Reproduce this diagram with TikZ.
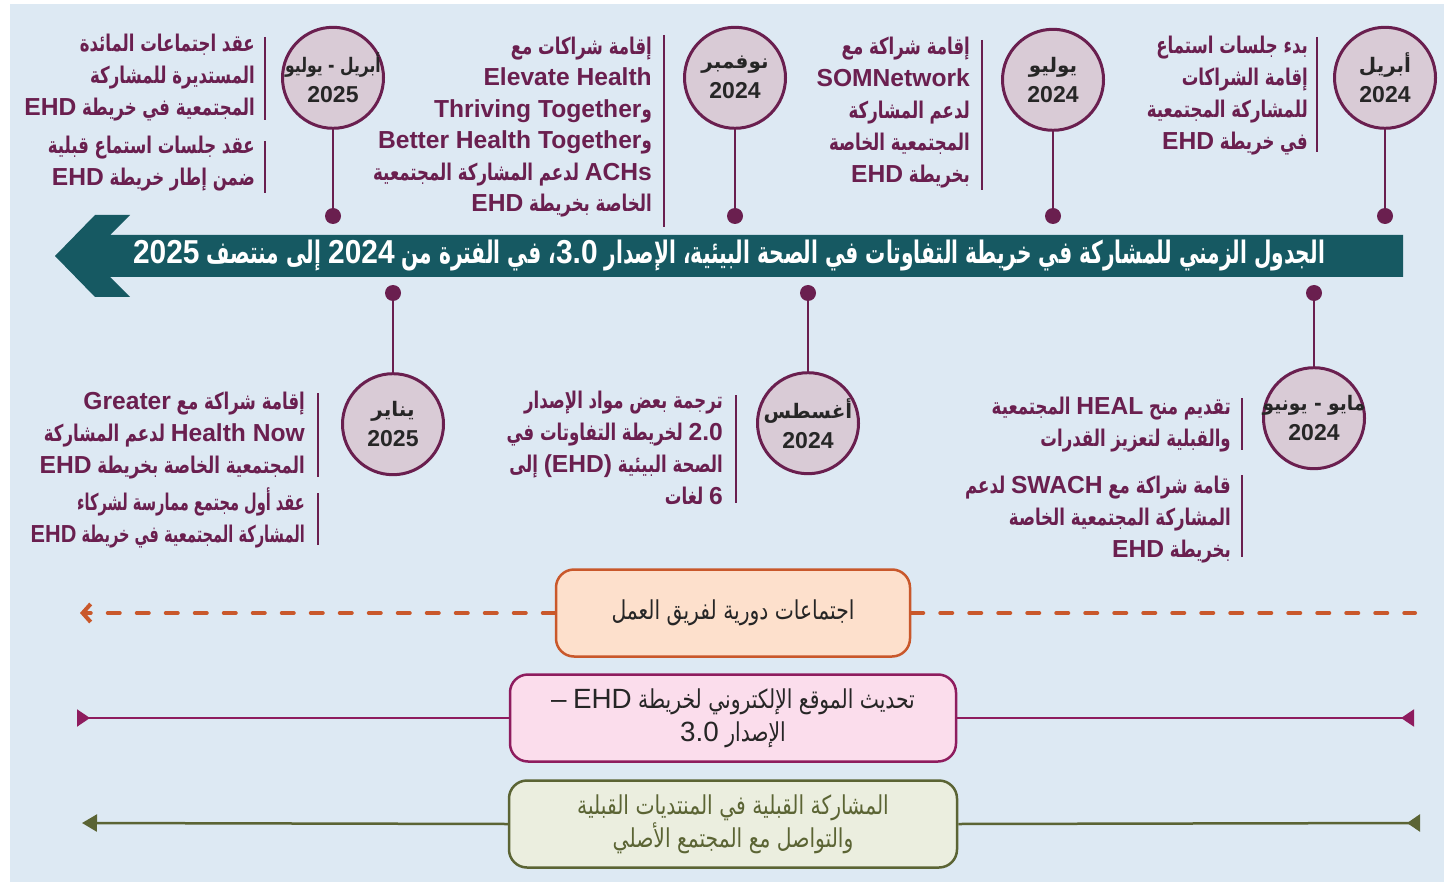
\documentclass[tikz,border=0pt]{standalone}
\usepackage{fontspec}
\usepackage{graphicx}
\setmainfont{Liberation Sans}
\newfontfamily\arabicfont[Script=Arabic, FakeStretch=0.72]{DejaVu Sans}
\newfontfamily\bandfont[Script=Arabic, FakeStretch=0.78]{DejaVu Sans}
\newfontfamily\monfont[Script=Arabic]{DejaVu Sans}
\newfontfamily\latinfont[Scale=1.07]{Liberation Sans}
\TeXXeTstate=1
\usetikzlibrary{arrows.meta,positioning}

\definecolor{bgblue}{RGB}{221,233,243}
\definecolor{plum}{RGB}{106,31,79}
\definecolor{mauve}{RGB}{217,203,214}
\definecolor{timeteal}{RGB}{22,89,98}
\definecolor{darktxt}{RGB}{38,38,38}
\definecolor{rust}{RGB}{201,88,43}
\definecolor{peach}{RGB}{253,224,204}
\definecolor{berry}{RGB}{142,28,94}
\definecolor{blush}{RGB}{251,221,236}
\definecolor{olivel}{RGB}{91,100,52}
\definecolor{sage}{RGB}{235,238,223}

\newcommand\AR[1]{\beginR #1\endR}
\newcommand\ARs[1]{\beginR\strut #1\endR}
\newcommand\EN[1]{\beginL{\latinfont #1}\endL}
\newcommand\mon[2][1]{{\monfont\fontsize{20}{30}\selectfont\makebox[0pt]{\scalebox{#1}[1]{\AR{#2}}}}}
\newcommand\yr[1]{{\fontsize{23}{30}\selectfont #1}}

\tikzset{
  dot/.style={circle, fill=plum, minimum size=16pt, inner sep=0pt},
  datec/.style={circle, draw=plum, line width=3pt, fill=mauve, minimum size=101pt,
    inner sep=0pt, align=center, text=darktxt,
    font=\bfseries\fontsize{23}{30}\selectfont},
  stem/.style={plum, line width=2pt},
  sidebar/.style={plum, line width=1.2pt},
  ann/.style={anchor=north east, inner sep=0pt, align=right, text=plum,
    font=\arabicfont\bfseries\fontsize{23}{32}\selectfont},
  title/.style={text=white, inner sep=0pt,
    font=\arabicfont\bfseries\fontsize{31}{33}\selectfont},
  band/.style={rounded corners=18pt, line width=2.5pt, minimum height=87pt,
    align=center, text=darktxt, font=\bandfont\fontsize{26}{33}\selectfont}
}

\begin{document}
\begin{tikzpicture}[x=1pt,y=-1pt]
\useasboundingbox (0,0) rectangle (1447,882);
\fill[bgblue] (10,4) rectangle (1444,882);

% timeline arrow
\fill[timeteal] (1403,235) -- (110,235) -- (130,215) -- (95,215) -- (55,256)
  -- (95,297) -- (130,297) -- (110,277) -- (1403,277) -- cycle;
\node[title] (ttl) at (729,256) {\resizebox{1192pt}{\height}{\AR{الجدول الزمني للمشاركة في خريطة التفاوتات في الصحة البيئية، الإصدار \EN{3.0}، في الفترة من \EN{2024} إلى منتصف \EN{2025}}}};

% dots on the timeline
\foreach \n/\x/\y in {A/333/216, B/735/216, C/1053/216, D/1385/216,
                      E/393/293, F/808/293, G/1314/293}
  \node[dot] (d\n) at (\x,\y) {};

% dates
\node[datec, above=78pt of dA] (cA) {\mon[0.78]{أبريل - يوليو}\\\yr{2025}};
\node[datec, above=78pt of dB] (cB) {\mon{نوفمبر}\\\yr{2024}};
\node[datec, above=76pt of dC] (cC) {\mon{يوليو}\\\yr{2024}};
\node[datec, above=78pt of dD] (cD) {\mon{أبريل}\\\yr{2024}};
\node[datec, below=71pt of dE] (cE) {\mon{يناير}\\\yr{2025}};
\node[datec, below=70pt of dF] (cF) {\mon{أغسطس}\\\yr{2024}};
\node[datec, below=65pt of dG] (cG) {\mon[0.93]{مايو - يونيو}\\\yr{2024}};

\foreach \n in {A,B,C,D,E,F,G}
  \draw[stem] (d\n) -- (c\n);

% milestones
\node[ann] (tA1) at (255,29) {\ARs{عقد اجتماعات المائدة}\\\AR{المستديرة للمشاركة}\\\AR{المجتمعية في خريطة \EN{EHD}}};
\node[ann] (tA2) at (255,131) {\ARs{عقد جلسات استماع قبلية}\\\AR{ضمن إطار خريطة \EN{EHD}}};
\node[ann, font=\arabicfont\bfseries\fontsize{23}{31.5}\selectfont] (tB) at (652,32)
  {\ARs{إقامة شراكات مع}\\\EN{Elevate Health}\\\AR{و\EN{Thriving Together}}\\\AR{و\EN{Better Health Together}}\\\AR{\EN{ACHs} لدعم المشاركة المجتمعية}\\\AR{الخاصة بخريطة \EN{EHD}}};
\node[ann] (tC) at (970,32) {\ARs{إقامة شراكة مع}\\\EN{SOMNetwork}\\\AR{لدعم المشاركة}\\\AR{المجتمعية الخاصة}\\\AR{بخريطة \EN{EHD}}};
\node[ann] (tD) at (1308,31) {\ARs{بدء جلسات استماع}\\\AR{إقامة الشراكات}\\\AR{للمشاركة المجتمعية}\\\AR{في خريطة \EN{EHD}}};
\node[ann] (tE1) at (305,387) {\ARs{إقامة شراكة مع \EN{Greater}}\\\AR{\EN{Health Now} لدعم المشاركة}\\\AR{المجتمعية الخاصة بخريطة \EN{EHD}}};
\node[ann] (tE2) at (305,487) {\scalebox{0.88}[1]{\ARs{عقد أول مجتمع ممارسة لشركاء}}\\\scalebox{0.88}[1]{\AR{المشاركة المجتمعية في خريطة \EN{EHD}}}};
\node[ann] (tF) at (723,386) {\ARs{ترجمة بعض مواد الإصدار}\\\AR{\EN{2.0} لخريطة التفاوتات في}\\\AR{الصحة البيئية \EN{(EHD)} إلى}\\\AR{\EN{6} لغات}};
\node[ann] (tG1) at (1231,392) {\ARs{تقديم منح \EN{HEAL} المجتمعية}\\\AR{والقبلية لتعزيز القدرات}};
\node[ann] (tG2) at (1231,471) {\ARs{قامة شراكة مع \EN{SWACH} لدعم}\\\AR{المشاركة المجتمعية الخاصة}\\\AR{بخريطة \EN{EHD}}};

\foreach \x/\a/\b in {265/37/120, 265/141/193, 664/35/227, 982/40/190, 1317/37/152,
                      318/393/477, 318/493/545, 736/395/503, 1242/398/450, 1242/475/557}
  \draw[sidebar] (\x,\a) -- (\x,\b);

% ongoing work
\node[band, draw=rust, fill=peach, minimum width=354pt] (wk) at (733,613)
  {\AR{اجتماعات دورية لفريق العمل}};
\node[band, draw=berry, fill=blush, minimum width=446pt] (web) at (733,718)
  {\AR{تحديث الموقع الإلكتروني لخريطة \EN{EHD} \EN{–}}\\\AR{الإصدار \EN{3.0}}};
\node[band, draw=olivel, fill=sage, minimum width=448pt, text=olivel] (trb) at (733,824)
  {\AR{المشاركة القبلية في المنتديات القبلية}\\\AR{والتواصل مع المجتمع الأصلي}};

\coordinate (wkL) at (80,613);   \coordinate (wkR) at (1415,613);
\coordinate (webL) at (77,718);  \coordinate (webR) at (1414,718);
\coordinate (trbL) at (82,823);  \coordinate (trbR) at (1420,823);

\draw[rust, line width=4pt, line cap=round, dash pattern=on 12pt off 17pt,
  -{Straight Barb[length=8pt,width=18pt]}] (wk.west) -- (wkL);
\draw[rust, line width=4pt, line cap=round, dash pattern=on 12pt off 17pt] (wk.east) -- (wkR);
\draw[berry, line width=2pt, -{Triangle[reversed,length=13pt,width=17pt]}] (web.west) -- (webL);
\draw[berry, line width=2pt, -{Triangle[reversed,length=13pt,width=17pt]}] (web.east) -- (webR);
\draw[olivel, line width=2.5pt, -{Triangle[length=15pt,width=17pt]}] (trb.west) -- (trbL);
\draw[olivel, line width=2.5pt, -{Triangle[reversed,length=13pt,width=17pt]}] (trb.east) -- (trbR);
\end{tikzpicture}
\end{document}
